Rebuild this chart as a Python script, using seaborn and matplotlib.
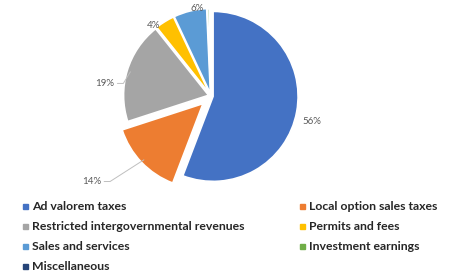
import numpy as np
import matplotlib
matplotlib.use("Agg")
import matplotlib.pyplot as plt
import seaborn as sns
from matplotlib.lines import Line2D

categories = ["Ad valorem taxes", "Local option sales taxes",
              "Restricted intergovernmental revenues", "Permits and fees",
              "Sales and services", "Investment earnings", "Miscellaneous"]
shares = [55.8, 14.2, 19.3, 3.7, 6.3, 0.4, 0.3]
pct_labels = ["56%", "14%", "19%", "4%", "6%", "", ""]

sns.set_theme(style="white")
plt.rcParams['font.family'] = ['Lato', 'DejaVu Sans']

palette = ["#4472C4", "#ED7D31", "#A5A5A5", "#FFC000", "#5B9BD5", "#70AD47", "#264478"]
explode = [0.025, 0.13, 0.03, 0.03, 0.03, 0.03, 0.03]

fig = plt.figure(figsize=(4.51, 2.75), dpi=100)
# pie centre ~ (210, 96) px, radius 85 px
ax = fig.add_axes([111 / 451, 79 / 275, 200 / 451, 200 / 275])
wedges, _ = ax.pie(shares, colors=palette, startangle=90, counterclock=False,
                   explode=explode, radius=1.0,
                   wedgeprops=dict(edgecolor="white", linewidth=1.2))
lim = 100 / 85
ax.set_xlim(-lim, lim)
ax.set_ylim(-lim, lim)
ax.set_aspect("equal")
ax.axis("off")

# label radius / angle shift per slice (Excel best-fit placement)
label_r = [1.22, 1.73, 1.26, 1.07, 1.04]
label_shift = [-4, -8, 10, 7, -4.6]
has_leader = [False, True, True, False, False]
line_color = "#BFBFBF"
for i, w in enumerate(wedges):
    if not pct_labels[i]:
        continue
    mid = np.deg2rad((w.theta1 + w.theta2) / 2)
    ang = mid + np.deg2rad(label_shift[i])
    lx, ly = label_r[i] * np.cos(ang), label_r[i] * np.sin(ang)
    ax.text(lx, ly, pct_labels[i], ha="center", va="center",
            fontsize=7, color="#595959", clip_on=False)
    if has_leader[i]:
        ex = explode[i]
        edge_x = (1 + ex - 0.04) * np.cos(mid)
        edge_y = (1 + ex - 0.04) * np.sin(mid)
        sx = lx + 0.15
        ax.plot([sx, sx + 0.07, edge_x], [ly, ly, edge_y],
                color=line_color, lw=0.7, clip_on=False)

handles = [Line2D([], [], marker="s", linestyle="none", markersize=3.6,
                  markerfacecolor=c, markeredgecolor=c) for c in palette]
order = [0, 2, 4, 6, 1, 3, 5]
fig.legend([handles[i] for i in order], [categories[i] for i in order],
           loc="upper left", bbox_to_anchor=(21 / 451, 1 - 201 / 275),
           ncol=2, frameon=False, prop=dict(size=8.8, weight="bold"),
           handlelength=0.6, handletextpad=0.3, columnspacing=4.4,
           labelspacing=0.74, borderaxespad=0, borderpad=0)

fig.savefig("out.png", dpi=100)
